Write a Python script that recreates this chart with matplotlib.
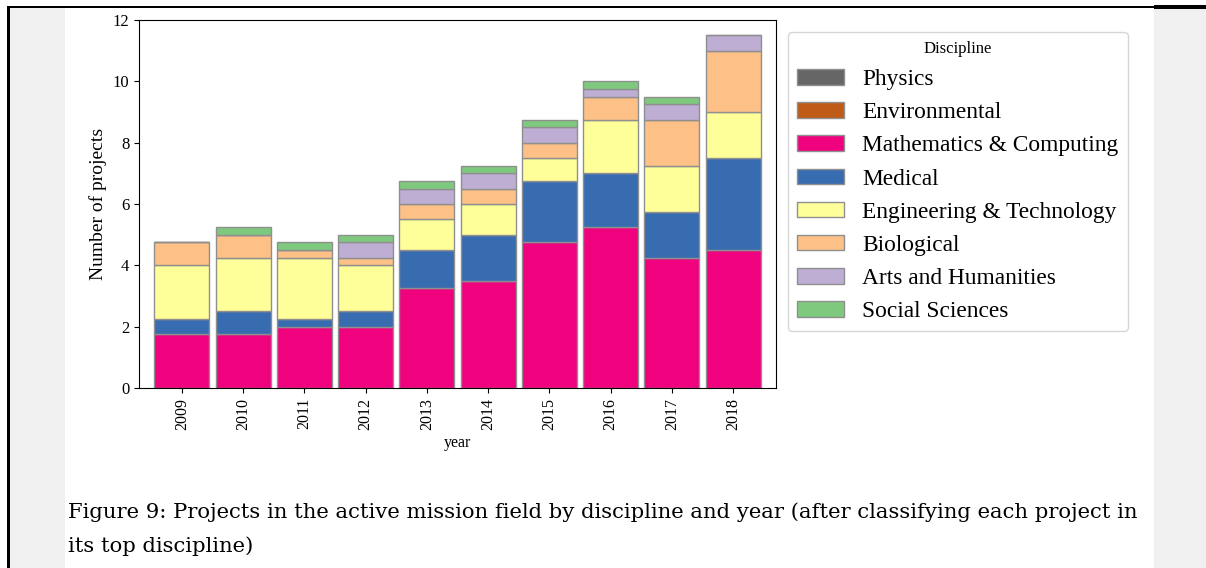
import numpy as np
import matplotlib.pyplot as plt
from matplotlib.patches import Rectangle

years = ["2009", "2010", "2011", "2012", "2013", "2014", "2015", "2016", "2017", "2018"]
disciplines = ["Physics", "Environmental", "Mathematics & Computing", "Medical",
               "Engineering & Technology", "Biological", "Arts and Humanities",
               "Social Sciences"]

physics       = [0, 0, 0, 0, 0, 0, 0, 0, 0, 0]
environmental = [0, 0, 0, 0, 0, 0, 0, 0, 0, 0]
maths         = [1.75, 1.75, 2.0, 2.0, 3.25, 3.5, 4.75, 5.25, 4.25, 4.5]
medical       = [0.5, 0.75, 0.25, 0.5, 1.25, 1.5, 2.0, 1.75, 1.5, 3.0]
engineering   = [1.75, 1.75, 2.0, 1.5, 1.0, 1.0, 0.75, 1.75, 1.5, 1.5]
biological    = [0.75, 0.75, 0.25, 0.25, 0.5, 0.5, 0.5, 0.75, 1.5, 2.0]
arts          = [0, 0, 0, 0.5, 0.5, 0.5, 0.5, 0.25, 0.5, 0.5]
social        = [0, 0.25, 0.25, 0.25, 0.25, 0.25, 0.25, 0.25, 0.25, 0]

series = [physics, environmental, maths, medical, engineering, biological, arts, social]

caption1 = ("Figure 9: Projects in the active mission field by discipline and year "
            "(after classifying each project in")
caption2 = "its top discipline)"

plt.rcParams['font.family'] = ['Liberation Serif', 'DejaVu Serif']

W, H = 1206, 568
fig = plt.figure(figsize=(W / 100, H / 100), dpi=100)
fig.patch.set_facecolor("white")

# page decorations (screenshot frame)
def px_rect(x0, y0, x1, y1, color):
    fig.patches.append(Rectangle((x0 / W, 1 - y1 / H), (x1 - x0) / W, (y1 - y0) / H,
                                 transform=fig.transFigure, facecolor=color,
                                 edgecolor="none", zorder=0))

px_rect(9, 7, 65, H, "#f0f0f0")
px_rect(1154, 8, W, H, "#f0f0f0")
px_rect(7, 6, 10, H, "black")
px_rect(7, 5.5, 1154, 7.5, "black")
px_rect(1154, 5.5, W, 8.5, "black")

ax = fig.add_axes([139 / W, 1 - 388 / H, 637 / W, 368 / H])

colors = plt.get_cmap("Accent")(np.linspace(1, 0, 8))
x = np.arange(len(years))
bottom = np.zeros(len(years))
for name, vals, col in zip(disciplines, series, colors):
    vals = np.array(vals, dtype=float)
    ax.bar(x, vals, width=0.9, bottom=bottom, color=col, edgecolor="#8f8f8f",
           linewidth=1.0, label=name)
    bottom += vals

ax.set_xlim(-0.7, len(years) - 0.3)
ax.set_ylim(0, 12)
ax.set_xticks(x)
ax.set_xticklabels(years, rotation=90, fontsize=11.5)
ax.tick_params(axis="y", labelsize=12)
ax.set_yticks([0, 2, 4, 6, 8, 10, 12])
ax.set_ylabel("Number of projects", fontsize=14)
ax.set_xlabel("year", fontsize=11.5)

leg = ax.legend(loc="upper left", bbox_to_anchor=(1, 1), title="Discipline",
                fontsize=16.8, title_fontsize=12, labelspacing=0.52,
                handleheight=0.65)

fig.text(68 / W, 1 - 512 / H, caption1, fontsize=15.25, family="DejaVu Serif",
         va="center", ha="left")
fig.text(68 / W, 1 - 546 / H, caption2, fontsize=15.25, family="DejaVu Serif",
         va="center", ha="left")

fig.savefig("out.png", dpi=100)
